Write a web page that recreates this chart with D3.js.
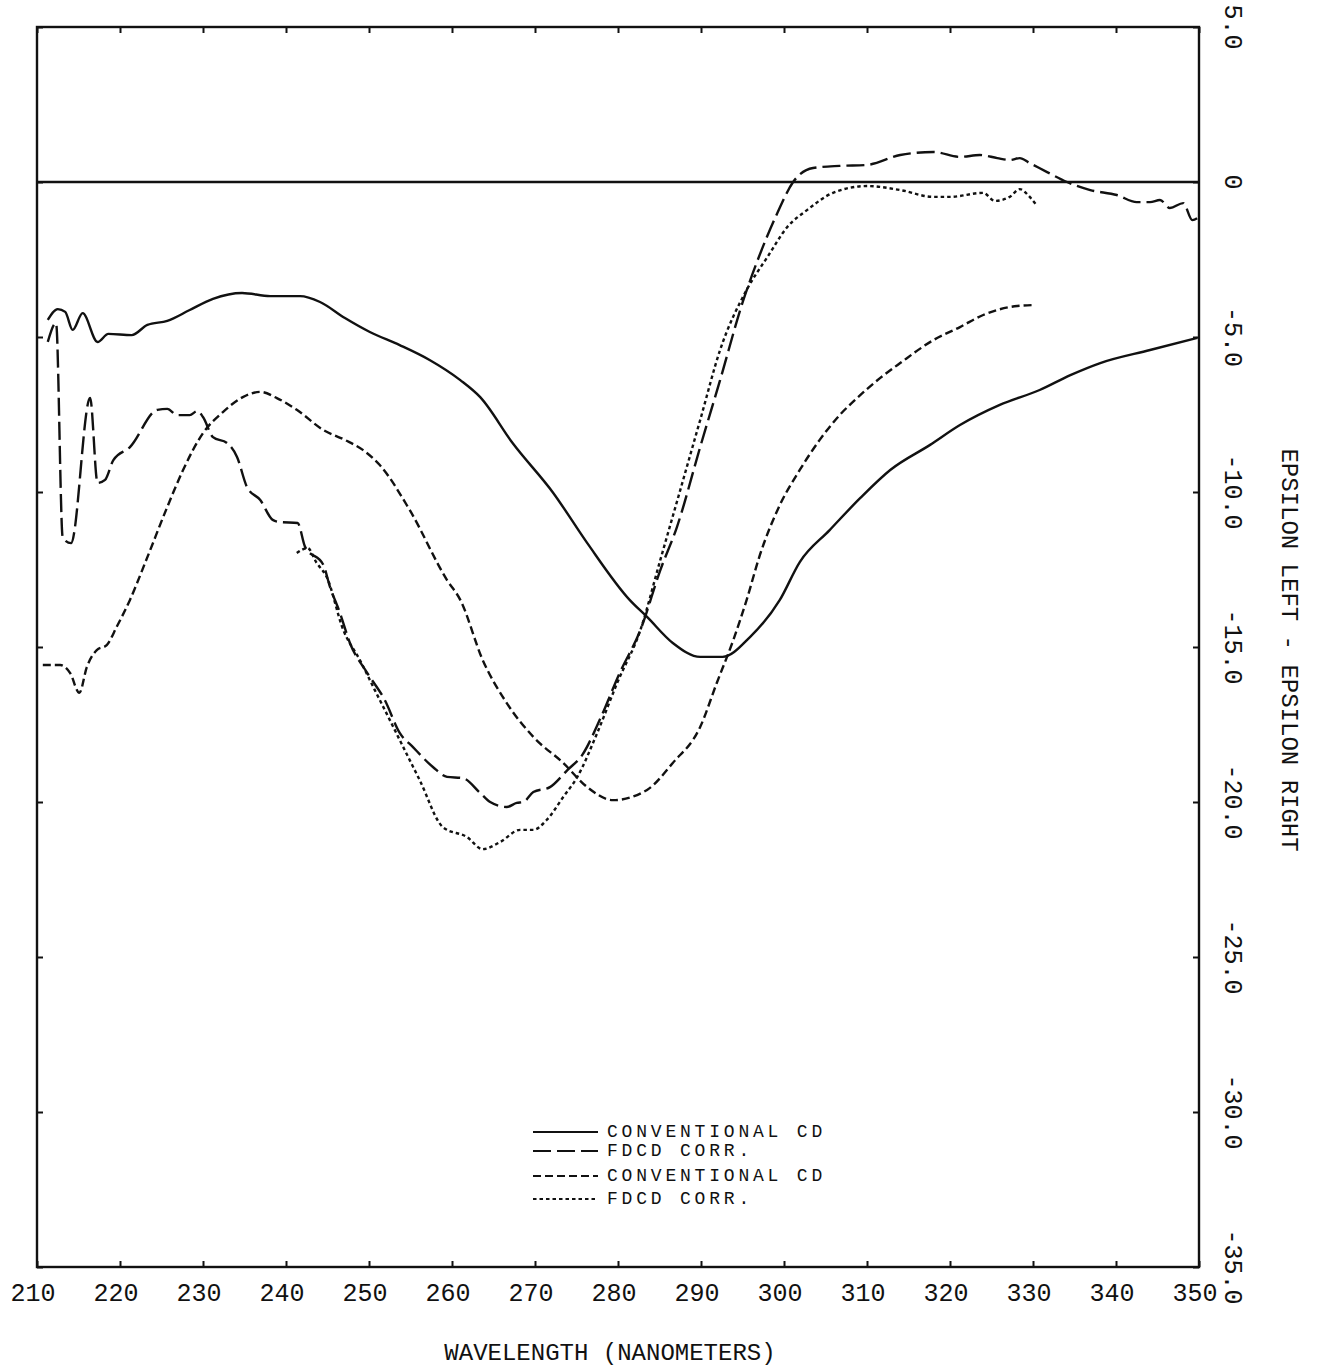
<!DOCTYPE html>
<html lang="en">
<head>
	<meta charset="UTF-8">
	<script src="https://cdn.jsdelivr.net/npm/d3@7"></script>
	<title>CD / FDCD spectra</title>
	<style>
		body { margin: 0; background: #fff; }
		svg { display: block; }
		text { font-family: "Liberation Mono", "DejaVu Sans Mono", monospace; fill: #111; }
		.frame { fill: none; stroke: #111; stroke-width: 2.4; }
		.curve { fill: none; stroke: #111; stroke-width: 2.4; stroke-linejoin: round; }
	</style>
</head>
<body>
	<div id="chart"></div>
	<script>
		// tick values
		const wavelengthTicks = [210, 220, 230, 240, 250, 260, 270, 280, 290, 300, 310, 320, 330, 340, 350];
		const epsilonTicks = [5, 0, -5, -10, -15, -20, -25, -30, -35];
		const epsilonLabels = ['5.0', '0', '-5.0', '-10.0', '-15.0', '-20.0', '-25.0', '-30.0', '-35.0'];

		// series: [wavelength nm, epsilon]
		const convCdA = [
			[211.3, -4.45], [212.5, -4.10], [213.4, -4.19], [214.3, -4.77], [215.5, -4.23], [217.3, -5.16],
			[218.6, -4.90], [221.4, -4.94], [223.3, -4.61], [225.7, -4.48], [228.4, -4.13], [231.2, -3.77],
			[234.7, -3.58], [238.1, -3.68], [241.7, -3.68], [244.1, -3.87], [247.1, -4.39], [250.1, -4.84],
			[253.7, -5.26], [257.3, -5.74], [261.0, -6.39], [263.4, -6.94], [267.3, -8.42], [272.2, -10.03],
			[276.3, -11.65], [281.4, -13.48], [283.5, -14.03], [286.6, -14.87], [289.9, -15.32], [292.6, -15.32],
			[295.9, -14.68], [299.5, -13.48], [301.9, -12.26], [305.5, -11.23], [309.2, -10.19], [312.8, -9.29],
			[317.6, -8.48], [321.2, -7.84], [326.0, -7.19], [330.8, -6.71], [334.5, -6.23], [338.1, -5.84],
			[344.1, -5.42], [349.8, -5.03]
		];
		const fdcdA = [
			[211.3, -5.16], [212.3, -4.55], [213.1, -11.48], [214.1, -11.65], [216.4, -6.97], [217.3, -9.71],
			[218.2, -9.61], [219.2, -8.97], [221.2, -8.55], [224.5, -7.35], [225.7, -7.32], [226.9, -7.52],
			[228.4, -7.52], [229.3, -7.39], [230.0, -7.58], [231.2, -8.23], [232.9, -8.42], [234.1, -8.87],
			[235.3, -9.84], [236.9, -10.26], [238.4, -10.90], [239.3, -10.97], [241.4, -11.0], [242.3, -11.77],
			[244.5, -12.35], [245.3, -13.06], [246.5, -13.9], [247.7, -14.87], [249.8, -15.84], [251.9, -16.71],
			[253.7, -17.77], [255.3, -18.23], [257.7, -18.87], [259.4, -19.19], [261.3, -19.23], [263.4, -19.71],
			[264.6, -20.0], [266.6, -20.16], [267.8, -20.03], [268.6, -20.0], [269.8, -19.68], [271.8, -19.52],
			[273.9, -18.97], [275.7, -18.48], [277.8, -17.35], [280.2, -15.84], [282.7, -14.45], [285.1, -12.52],
			[287.1, -11.13], [289.9, -8.55], [292.3, -6.39], [295.1, -3.81], [296.7, -2.61], [299.2, -1.0],
			[301.1, 0], [303.5, 0.45], [306.7, 0.52], [310.0, 0.55], [314.0, 0.87], [318.0, 0.97],
			[321.2, 0.81], [323.6, 0.87], [325.7, 0.77], [327.2, 0.71], [328.4, 0.77], [329.6, 0.61],
			[331.7, 0.32], [334.1, 0], [336.9, -0.26], [340.1, -0.42], [342.5, -0.65], [344.1, -0.65],
			[345.3, -0.58], [346.5, -0.84], [348.1, -0.68], [349.2, -1.23], [350.0, -1.13]
		];
		const convCdB = [
			[210.7, -15.58], [212.8, -15.58], [214.0, -15.84], [215.1, -16.48], [216.0, -15.65], [217.2, -15.1],
			[218.4, -14.94], [219.6, -14.35], [221.2, -13.48], [223.3, -12.1], [225.7, -10.48], [227.6, -9.29],
			[230.0, -8.1], [232.4, -7.42], [234.8, -6.94], [236.9, -6.77], [238.9, -6.97], [241.3, -7.35],
			[244.5, -8.0], [247.1, -8.32], [249.3, -8.65], [251.3, -9.13], [254.9, -10.58], [259.4, -12.84],
			[261.0, -13.48], [263.7, -15.42], [266.6, -16.81], [269.8, -17.9], [273.4, -18.74], [276.3, -19.52],
			[279.4, -19.94], [283.5, -19.61], [286.6, -18.74], [289.9, -17.58], [291.9, -16.16], [293.9, -14.77],
			[295.5, -13.48], [297.1, -12.03], [299.5, -10.42], [301.9, -9.29], [304.3, -8.32], [306.7, -7.52],
			[308.8, -6.97], [311.6, -6.32], [314.0, -5.84], [318.0, -5.10], [321.2, -4.68], [324.0, -4.29],
			[328.1, -4.0], [330.2, -3.97]
		];
		const fdcdB = [
			[241.3, -11.97], [242.6, -11.81], [243.7, -12.29], [244.9, -12.74], [246.9, -14.45], [248.9, -15.42],
			[250.7, -16.39], [252.5, -17.35], [253.7, -18.0], [256.1, -19.29], [258.9, -20.81], [261.8, -21.13],
			[263.7, -21.52], [265.8, -21.29], [268.2, -20.9], [269.8, -20.9], [271.4, -20.58], [273.4, -19.84],
			[275.1, -19.19], [277.5, -17.77], [279.9, -16.16], [282.7, -14.45], [285.1, -12.19], [287.5, -9.94],
			[289.9, -7.68], [292.3, -5.42], [295.5, -3.48], [298.0, -2.42], [300.4, -1.45], [302.8, -0.9],
			[305.9, -0.35], [310.0, -0.13], [314.0, -0.26], [318.0, -0.48], [320.0, -0.48], [324.0, -0.35],
			[325.4, -0.61], [327.2, -0.48], [328.4, -0.23], [329.6, -0.48], [330.4, -0.74]
		];

		const series = [
			{ name: 'CONVENTIONAL CD', data: convCdA, dash: null },
			{ name: 'FDCD CORR.', data: fdcdA, dash: '18,6' },
			{ name: 'CONVENTIONAL CD', data: convCdB, dash: '8,4' },
			{ name: 'FDCD CORR.', data: fdcdB, dash: '3.5,3' }
		];

		const width = 1318;
		const height = 1368;
		const plot = { left: 37, right: 1199, top: 27, bottom: 1267 };

		const svg = d3.select('#chart')
			.append('svg')
			.attr('width', width)
			.attr('height', height);

		const x = d3.scaleLinear().domain([210, 350]).range([plot.left, plot.right]);
		const y = d3.scaleLinear().domain([-35, 5]).range([plot.bottom, plot.top]);

		//inward ticks on all four sides
		const tickLen = 6;
		svg.append('g')
			.attr('transform', `translate(0, ${plot.bottom})`)
			.call(d3.axisTop(x).tickValues(wavelengthTicks).tickSize(tickLen).tickFormat(''))
			.call(g => g.select('.domain').remove())
			.selectAll('line').attr('stroke', '#111').attr('stroke-width', 2);
		svg.append('g')
			.attr('transform', `translate(0, ${plot.top})`)
			.call(d3.axisBottom(x).tickValues(wavelengthTicks).tickSize(tickLen).tickFormat(''))
			.call(g => g.select('.domain').remove())
			.selectAll('line').attr('stroke', '#111').attr('stroke-width', 2);
		svg.append('g')
			.attr('transform', `translate(${plot.left}, 0)`)
			.call(d3.axisRight(y).tickValues(epsilonTicks).tickSize(tickLen).tickFormat(''))
			.call(g => g.select('.domain').remove())
			.selectAll('line').attr('stroke', '#111').attr('stroke-width', 2);
		svg.append('g')
			.attr('transform', `translate(${plot.right}, 0)`)
			.call(d3.axisLeft(y).tickValues(epsilonTicks).tickSize(tickLen).tickFormat(''))
			.call(g => g.select('.domain').remove())
			.selectAll('line').attr('stroke', '#111').attr('stroke-width', 2);

		// frame + zero line
		svg.append('rect')
			.attr('class', 'frame')
			.attr('x', plot.left)
			.attr('y', plot.top)
			.attr('width', plot.right - plot.left)
			.attr('height', plot.bottom - plot.top);
		svg.append('line')
			.attr('x1', plot.left).attr('x2', plot.right)
			.attr('y1', y(0)).attr('y2', y(0))
			.attr('stroke', '#111').attr('stroke-width', 2.4);

		// bottom labels
		svg.append('g')
			.selectAll('text')
			.data(wavelengthTicks)
			.join('text')
			.attr('x', d => x(d) - 4)
			.attr('y', plot.bottom + 34)
			.attr('text-anchor', 'middle')
			.attr('font-size', 25)
			.text(d => d);

		svg.append('text')
			.attr('x', 610)
			.attr('y', 1360)
			.attr('text-anchor', 'middle')
			.attr('font-size', 24)
			.text('WAVELENGTH (NANOMETERS)');

		// right labels, rotated
		svg.append('g')
			.selectAll('text')
			.data(epsilonTicks)
			.join('text')
			.attr('transform', d => `translate(1231, ${y(d)}) rotate(90)`)
			.attr('text-anchor', 'middle')
			.attr('dominant-baseline', 'central')
			.attr('font-size', 25)
			.text((d, i) => epsilonLabels[i]);

		svg.append('text')
			.attr('transform', `translate(1288, 650) rotate(90)`)
			.attr('text-anchor', 'middle')
			.attr('dominant-baseline', 'central')
			.attr('font-size', 24)
			.text('EPSILON LEFT - EPSILON RIGHT');

		// curves
		const line = d3.line()
			.curve(d3.curveMonotoneX)
			.x(d => x(d[0]))
			.y(d => y(d[1]));

		svg.append('g')
			.selectAll('path')
			.data(series)
			.join('path')
			.attr('class', 'curve')
			.attr('stroke-dasharray', d => d.dash)
			.attr('d', d => line(d.data));

		// legend
		const legendRows = [1132, 1151, 1176, 1199];
		const legend = svg.append('g');
		legend.selectAll('line')
			.data(series)
			.join('line')
			.attr('x1', 533).attr('x2', 598)
			.attr('y1', (d, i) => legendRows[i])
			.attr('y2', (d, i) => legendRows[i])
			.attr('stroke', '#111')
			.attr('stroke-width', 2.2)
			.attr('stroke-dasharray', d => d.dash);
		legend.selectAll('text')
			.data(series)
			.join('text')
			.attr('x', 607)
			.attr('y', (d, i) => legendRows[i])
			.attr('dominant-baseline', 'central')
			.attr('font-size', 18)
			.attr('letter-spacing', 3.8)
			.text(d => d.name);
	</script>
</body>
</html>
